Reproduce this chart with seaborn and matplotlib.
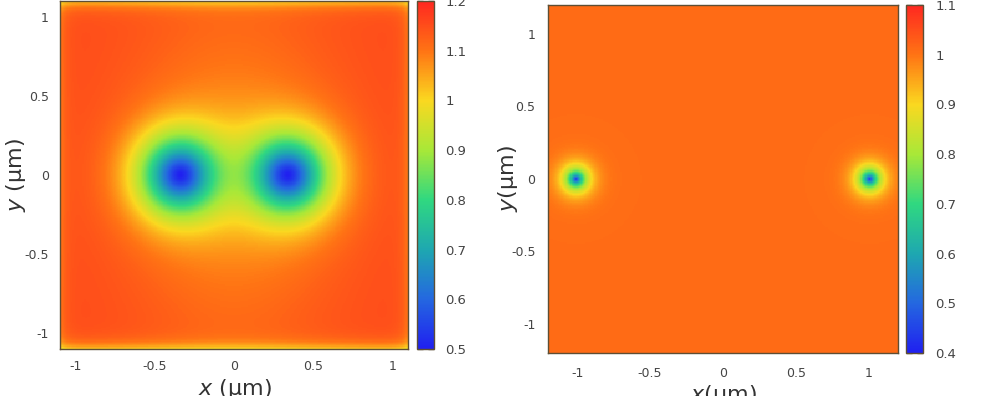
#!/usr/bin/env python3
"""
Two vortex density maps side by side (gnuplot-like look), drawn with seaborn heatmaps.
"""

import numpy as np
import matplotlib
matplotlib.use('Agg')
import matplotlib.pyplot as plt
from matplotlib.colors import LinearSegmentedColormap
import seaborn as sns

# ---- values ----
# left panel: two vortices close together
left_extent = [-1.1, 1.1]
left_vortex_x = [-0.34, 0.34]
left_vortex_y = [0.0, 0.0]
left_core = 0.256         # core size (um)
left_core_shape = 1.6
left_background = 1.155
left_minimum = 0.5
left_halo = [0.08, 0.65, 1.1]   # depth, x width, y width of the broad orange halo
left_edge_dip = [0.05, 0.13]    # dip at x edges, y edges
left_clim = [0.5, 1.2]
left_ticks = [-1, -0.5, 0, 0.5, 1]
left_cticks = [0.5, 0.6, 0.7, 0.8, 0.9, 1.0, 1.1, 1.2]

# right panel: two vortices far apart
right_extent = [-1.2, 1.2]
right_vortex_x = [-1.01, 1.01]
right_vortex_y = [0.0, 0.0]
right_core = 0.069
right_core_shape = 1.1
right_background = 1.01
right_minimum = 0.43
right_clim = [0.4, 1.1]
right_ticks = [-1, -0.5, 0, 0.5, 1]
right_cticks = [0.4, 0.5, 0.6, 0.7, 0.8, 0.9, 1.0, 1.1]

palette_colors = ['#2020f0', '#2468e0', '#1ea8b0', '#30d880',
                  '#a8e838', '#fad820', '#ff7414', '#ff2820']

FRAME = '#5e4e34'
TEXT = '#444444'


def tick_label(v):
    return f"{v:g}"


def density(extent, vx, vy, core, shape, bg, vmin, halo=None, edge_dip=None, n=280):
    xs = np.linspace(extent[0], extent[1], n)
    ys = np.linspace(extent[1], extent[0], n)   # top row first
    X, Y = np.meshgrid(xs, ys)
    g = np.ones_like(X)
    for cx, cy in zip(vx, vy):
        r = np.sqrt((X - cx) ** 2 + (Y - cy) ** 2)
        g *= 1 - np.exp(-(r / core) ** shape)
    Z = vmin + (bg - vmin) * g
    if halo is not None:
        # broad halo, weakened inside the cores
        Z -= halo[0] * g ** 2 * np.exp(-(X / halo[1]) ** 2 - (Y / halo[2]) ** 2)
    if edge_dip is not None:
        L = extent[1]
        Z -= edge_dip[0] * np.exp(-(L - np.abs(X)) / 0.04)
        Z -= edge_dip[1] * np.exp(-(L - np.abs(Y)) / 0.04)
    return Z


def draw_panel(fig, ax_rect, cax_rect, Z, extent, clim, ticks, cticks, cmap,
               xpad, ypad, cpad):
    ax = fig.add_axes(ax_rect)
    cax = fig.add_axes(cax_rect)
    sns.heatmap(Z, ax=ax, cbar_ax=cax, cmap=cmap, vmin=clim[0], vmax=clim[1],
                xticklabels=False, yticklabels=False, rasterized=True)
    n = Z.shape[0]
    lo, hi = extent
    xpos = [(t - lo) / (hi - lo) * n for t in ticks]
    ypos = [(hi - t) / (hi - lo) * n for t in ticks]
    ax.set_xticks(xpos)
    ax.set_xticklabels([tick_label(t) for t in ticks])
    ax.set_yticks(ypos)
    ax.set_yticklabels([tick_label(t) for t in ticks])
    ax.tick_params(axis='both', direction='in', length=5, width=1,
                   color=FRAME, labelcolor=TEXT, labelsize=9,
                   top=True, right=True)
    ax.tick_params(axis='x', pad=xpad)
    ax.tick_params(axis='y', pad=ypad)
    for sp in ax.spines.values():
        sp.set_visible(True)
        sp.set_color(FRAME)
        sp.set_linewidth(1.0)

    cbar = ax.collections[0].colorbar
    cbar.set_ticks(cticks)
    cbar.set_ticklabels([tick_label(t) for t in cticks])
    cbar.outline.set_edgecolor(FRAME)
    cbar.outline.set_linewidth(1.0)
    cax.tick_params(direction='in', length=4, width=1, color=FRAME,
                    labelcolor=TEXT, labelsize=9.5, left=True, right=True,
                    pad=cpad)
    return ax


def main():
    sns.set_theme(style='white')
    plt.rcParams['font.family'] = ['DejaVu Sans']

    cmap = LinearSegmentedColormap.from_list('gp', palette_colors)

    fig = plt.figure(figsize=(9.94, 3.96), dpi=100)

    Zl = density(left_extent, left_vortex_x, left_vortex_y, left_core, left_core_shape,
                 left_background, left_minimum, left_halo, left_edge_dip)
    Zr = density(right_extent, right_vortex_x, right_vortex_y, right_core, right_core_shape,
                 right_background, right_minimum)

    draw_panel(fig, [0.0604, 0.1187, 0.350, 0.879], [0.4195, 0.1187, 0.0171, 0.879],
               Zl, left_extent, left_clim, left_ticks, left_cticks, cmap,
               xpad=8, ypad=8, cpad=8)
    draw_panel(fig, [0.5513, 0.1086, 0.3521, 0.8788], [0.9115, 0.1086, 0.0171, 0.8788],
               Zr, right_extent, right_clim, right_ticks, right_cticks, cmap,
               xpad=10, ypad=9, cpad=9)

    # axis labels (gnuplot style, partly cut by the figure edge)
    fig.text(16 / 994, 1 - 175 / 396, r'$y$ (μm)', rotation=90, fontsize=16,
             color='#333333', ha='center', va='center')
    fig.text(235 / 994, 1 - 389 / 396, r'$x$ (μm)', fontsize=16,
             color='#333333', ha='center', va='center')
    fig.text(508 / 994, 1 - 179 / 396, r'$y$(μm)', rotation=90, fontsize=16,
             color='#333333', ha='center', va='center')
    fig.text(723 / 994, 1 - 395 / 396, r'$x$(μm)', fontsize=16,
             color='#333333', ha='center', va='center')

    fig.savefig('out.png', dpi=100)
    plt.close(fig)


if __name__ == "__main__":
    main()
